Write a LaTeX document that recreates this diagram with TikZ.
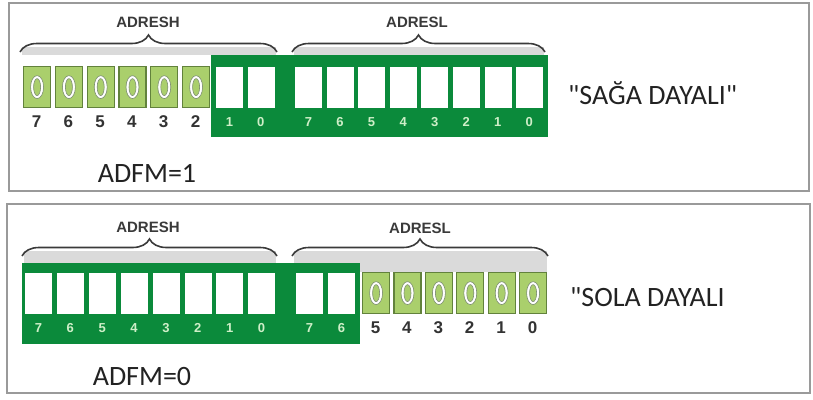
\documentclass[tikz,border=0pt]{standalone}
\usepackage{fontspec}
\setmainfont{Carlito}[Ligatures=TeXOff]
\newfontfamily\arialf{Liberation Sans}
\usetikzlibrary{decorations.pathreplacing}

\definecolor{darkgreen}{HTML}{0B8A3B}
\definecolor{lightgreen}{HTML}{AACF6C}
\definecolor{lgborder}{HTML}{62823C}
\definecolor{framegray}{HTML}{9A9A9A}
\definecolor{bandgray}{HTML}{DADADA}
\definecolor{bracegray}{HTML}{3A3A3A}
\definecolor{digitgreen}{HTML}{CFEFC8}
\definecolor{digitdark}{HTML}{333333}
\definecolor{textdark}{HTML}{222222}
\definecolor{zerogray}{HTML}{7F8F75}

\tikzset{
  panelframe/.style={draw=framegray, line width=2},
  gblock/.style={fill=darkgreen},
  wcell/.style={fill=white, draw=none, minimum width=27pt, minimum height=41pt,
                inner sep=0, anchor=north west},
  lcell/.style={fill=lightgreen, draw=lgborder, line width=1.2, minimum width=27pt,
                minimum height=41pt, inner sep=0, anchor=north west},
  gdigit/.style={font=\arialf\bfseries\fontsize{13}{13}\selectfont, text=digitgreen},
  ddigit/.style={font=\arialf\bfseries\fontsize{17}{17}\selectfont, text=digitdark},
  reglabel/.style={font=\arialf\bfseries\fontsize{15}{15}\selectfont, text=bracegray},
  bigtext/.style={font=\fontsize{28}{28}\selectfont, text=textdark, inner sep=0},
  regbrace/.style={decorate, decoration={brace, amplitude=17pt}, draw=bracegray, line width=1.6},
  band/.style={fill=bandgray},
}

% outlined zero printed inside a light cell
\newcommand\zeroglyph[1]{%
  \draw[white, line width=2.6] (#1.center) ellipse [x radius=5pt, y radius=10pt];
  \draw[zerogray, line width=0.6] (#1.center) ellipse [x radius=6.5pt, y radius=11.5pt];
  \draw[zerogray, line width=0.6] (#1.center) ellipse [x radius=3.5pt, y radius=8.5pt];
}

\begin{document}
\begin{tikzpicture}[x=1pt, y=-1pt]
\useasboundingbox (0,0) rectangle (813,399);

% ---------- upper panel: ADFM=1 ----------
\draw[panelframe] (9,3) rectangle (809,191);

\fill[band] (22,47) rectangle (276,55);
\fill[band] (294,47) rectangle (544,55);
\draw[regbrace] (20,52) -- (277,52);
\draw[regbrace] (292,52) -- (545,52);
\node[reglabel] (thl) at (148,22) {ADRESH};
\node[reglabel] (tll) at (417,22) {ADRESL};

\fill[gblock] (211,55) rectangle (548,137);

\foreach \b [count=\i from 0] in {7,6,5,4,3,2} {
  \node[lcell] (ta\b) at ({23+\i*31.8},66) {};
  \zeroglyph{ta\b}
  \node[ddigit] (tda\b) at ({36.5+\i*31.8},122) {\b};
}
\foreach \b [count=\i from 0] in {1,0} {
  \node[wcell] (tb\b) at ({216+\i*31.3},67) {};
  \node[gdigit] (tdb\b) at ({229.5+\i*31.3},122) {\b};
}
\foreach \b [count=\i from 0] in {7,6,5,4,3,2,1,0} {
  \node[wcell] (tc\b) at ({295+\i*31.55},67) {};
  \node[gdigit] (tdc\b) at ({308.5+\i*31.55},122) {\b};
}

\node[bigtext, anchor=west] (tright) at (568,93) {"SAĞA DAYALI"};
\node[bigtext] (tadfm) at (147,173) {ADFM=1};

% ---------- lower panel: ADFM=0 ----------
\draw[panelframe] (7,204) rectangle (810,393);

\fill[band] (24,251) rectangle (276,263);
\fill[band] (294,251) rectangle (547,272);
\draw[regbrace] (22,256) -- (277,256);
\draw[regbrace] (292,256) -- (548,256);
\node[reglabel] (bhl) at (148,227) {ADRESH};
\node[reglabel] (bll) at (420,228) {ADRESL};

\fill[gblock] (22,263) rectangle (360,344);

\foreach \b [count=\i from 0] in {7,6,5,4,3,2,1,0} {
  \node[wcell] (ba\b) at ({25+\i*31.86},273) {};
  \node[gdigit] (bda\b) at ({38.5+\i*31.86},328) {\b};
}
\foreach \b [count=\i from 0] in {7,6} {
  \node[wcell] (bb\b) at ({296+\i*32},273) {};
  \node[gdigit] (bdb\b) at ({309.5+\i*32},328) {\b};
}
\foreach \b [count=\i from 0] in {5,4,3,2,1,0} {
  \node[lcell] (bc\b) at ({362+\i*31.4},272) {};
  \zeroglyph{bc\b}
  \node[ddigit] (bdc\b) at ({375.5+\i*31.4},328) {\b};
}

\node[bigtext, anchor=west] (bright) at (570,297) {"SOLA DAYALI};
\node[bigtext] (badfm) at (142,377) {ADFM=0};
\end{tikzpicture}
\end{document}
